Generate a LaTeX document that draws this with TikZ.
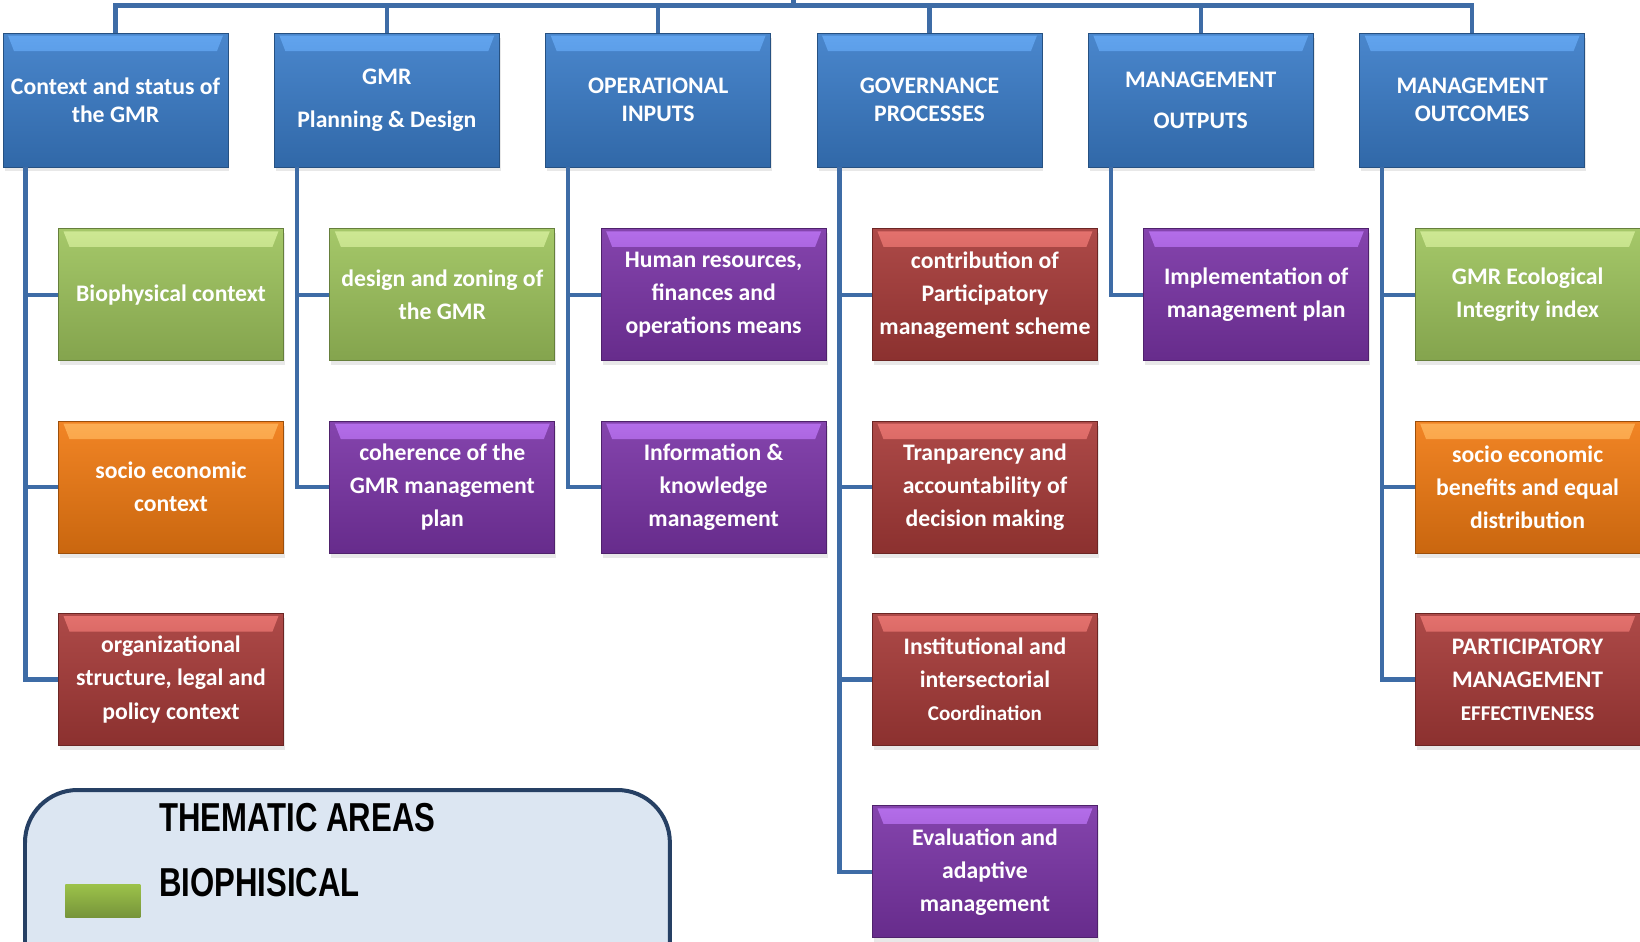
\documentclass[tikz,border=0pt]{standalone}
\usepackage{fontspec}
\setmainfont{Carlito}
\newfontfamily\legendfont[FakeStretch=0.77]{Liberation Sans}
\usepackage{tikz}
\usetikzlibrary{positioning,shadows}
\definecolor{hdrblue}    {RGB}{58,124,200}
\definecolor{hdrbluehi}  {RGB}{98,164,238}
\definecolor{biogreen}   {RGB}{157,195,92}
\definecolor{biogreenhi} {RGB}{206,232,148}
\definecolor{socorange}  {RGB}{240,122,18}
\definecolor{socorangehi}{RGB}{252,174,84}
\definecolor{govred}     {RGB}{166,58,56}
\definecolor{govredhi}   {RGB}{228,114,110}
\definecolor{opspurple}  {RGB}{122,52,166}
\definecolor{opspurplehi}{RGB}{180,110,234}
\definecolor{linkblue}   {RGB}{62,108,166}
\definecolor{legfill}    {RGB}{220,230,242}
\definecolor{legdraw}    {RGB}{38,64,100}
\definecolor{swtop}      {RGB}{156,194,74}
\definecolor{swbot}      {RGB}{118,148,58}
\newcommand{\hdrfont}{\fontsize{13.5}{15.9}\selectfont\bfseries}
\newcommand{\kidfont}{\fontsize{13.5}{18.8}\selectfont\bfseries}
\newcommand{\legfont}{\legendfont\bfseries\fontsize{23}{27}\selectfont}
\tikzset{
  glossbox/.style 2 args={draw=#1!65!black, line width=0.5pt,
                  top color=#1!92!white, bottom color=#1!84!black,
                  text=white, align=center, inner sep=2pt,
                  minimum width=4.5cm, minimum height=2.64cm,
                  drop shadow={shadow xshift=0.03cm, shadow yshift=-0.09cm,
                               opacity=0.18},
                  path picture={\shade[top color=#2, bottom color=#1]
                    ([xshift=0.10cm,yshift=-0.05cm]path picture bounding box.north west)
                    -- ([xshift=-0.10cm,yshift=-0.05cm]path picture bounding box.north east)
                    -- ([xshift=-0.22cm,yshift=-0.36cm]path picture bounding box.north east)
                    -- ([xshift=0.22cm,yshift=-0.36cm]path picture bounding box.north west)
                    -- cycle;}},
  hdrbox/.style   ={glossbox={hdrblue}{hdrbluehi}, font=\hdrfont,
                    minimum height=2.68cm},
  greenbox/.style ={glossbox={biogreen}{biogreenhi}, font=\kidfont},
  orangebox/.style={glossbox={socorange}{socorangehi}, font=\kidfont},
  redbox/.style   ={glossbox={govred}{govredhi}, font=\kidfont},
  purplebox/.style={glossbox={opspurple}{opspurplehi}, font=\kidfont},
  link/.style     ={draw=linkblue, line width=0.085cm},
  legbox/.style   ={draw=legdraw, fill=legfill, line width=0.08cm,
                    rounded corners=1.05cm, minimum width=12.9cm,
                    minimum height=5cm},
  legtext/.style  ={font=\legfont, inner sep=0pt, text=black},
  swatch/.style   ={top color=swtop, bottom color=swbot, inner sep=0pt,
                    minimum width=1.5cm, minimum height=0.66cm},
}
\begin{document}
\begin{tikzpicture}[x=0.02cm, y=-0.02cm, node distance=0.91cm]
  \useasboundingbox (0,0) rectangle (1640,942);
  \clip (0,0) rectangle (1640,942);

  \node[hdrbox] (ctx) at (115.5,100) {Context and status of\\the GMR};
  \node[hdrbox, right=of ctx]  (pln)  {GMR\\[0.3cm]Planning \& Design};
  \node[hdrbox, right=of pln]  (ops)  {OPERATIONAL\\INPUTS};
  \node[hdrbox, right=of ops]  (gov)  {GOVERNANCE\\PROCESSES};
  \node[hdrbox, right=of gov]  (mout) {MANAGEMENT\\[0.26cm]OUTPUTS};
  \node[hdrbox, right=of mout] (mres) {MANAGEMENT\\OUTCOMES};

  \node[greenbox, below=1.22cm of ctx, xshift=1.11cm] (bio) {Biophysical context};
  \node[orangebox, below=1.19cm of bio] (soc) {socio economic\\context};
  \node[redbox, below=1.19cm of soc] (org)
        {organizational\\structure, legal and\\policy context};

  \node[greenbox, below=1.22cm of pln, xshift=1.11cm] (dzn) {design and zoning of\\the GMR};
  \node[purplebox, below=1.19cm of dzn] (coh) {coherence of the\\GMR management\\plan};

  \node[purplebox, below=1.22cm of ops, xshift=1.11cm] (hrs)
        {Human resources,\\finances and\\operations means};
  \node[purplebox, below=1.19cm of hrs] (ikm) {Information \&\\knowledge\\management};

  \node[redbox, below=1.22cm of gov, xshift=1.11cm] (cps)
        {contribution of\\Participatory\\management scheme};
  \node[redbox, below=1.19cm of cps] (tad)
        {Tranparency and\\accountability of\\decision making};
  \node[redbox, below=1.19cm of tad] (iic)
        {Institutional and\\intersectorial\\{\fontsize{12}{18.8}\selectfont Coordination}};
  \node[purplebox, below=1.19cm of iic] (eam) {Evaluation and\\adaptive\\management};

  \node[purplebox, below=1.22cm of mout, xshift=1.11cm] (imp)
        {Implementation of\\management plan};

  \node[greenbox, below=1.22cm of mres, xshift=1.11cm] (eii) {GMR Ecological\\Integrity index};
  \node[orangebox, below=1.19cm of eii] (seb)
        {socio economic\\benefits and equal\\distribution};
  \node[redbox, below=1.19cm of seb] (pme)
        {PARTICIPATORY\\MANAGEMENT\\{\fontsize{12}{18.8}\selectfont EFFECTIVENESS}};

  \coordinate (hub)  at (793.5,5.5);
  \coordinate (root) at (793.5,0);
  \draw[link] (root) -- (hub);
  \draw[link] (ctx.north) |- (hub) -| (mres.north);
  \foreach \h in {pln,ops,gov,mout}
    \draw[link] (\h.north) -- (\h.north |- hub);
  \foreach \h/\k in {ctx/bio,ctx/soc,ctx/org,pln/dzn,pln/coh,ops/hrs,ops/ikm,
                     gov/cps,gov/tad,gov/iic,gov/eam,mout/imp,
                     mres/eii,mres/seb,mres/pme}
    \draw[link] ([xshift=0.46cm]\h.south west) |- (\k.west);

  \node[legbox, anchor=north west] (leg) at (23,788) {};
  \node[legtext, anchor=base west] (ttl) at (159,831) {THEMATIC AREAS};
  \node[legtext, anchor=base west] (bph) at (159,896) {BIOPHISICAL};
  \node[swatch, anchor=north west] (sw) at (65,884) {};
\end{tikzpicture}
\end{document}
